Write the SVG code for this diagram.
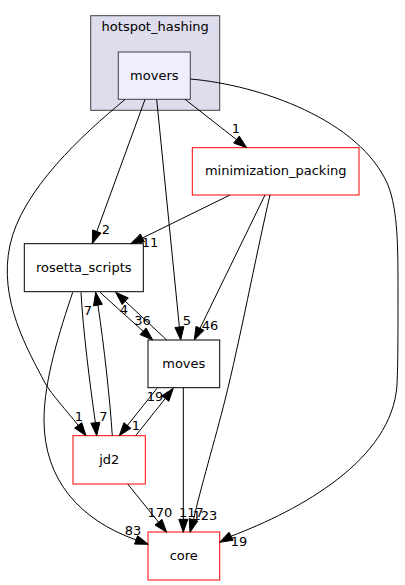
<svg xmlns="http://www.w3.org/2000/svg" width="405" height="585" viewBox="0 0 405 585">
<style>
text{font-family:"DejaVu Sans","Liberation Sans",sans-serif;font-size:13px;fill:#000;text-anchor:middle}
.n{fill:#fff;stroke:#000;stroke-width:1}
.r{fill:#fff;stroke:#f00;stroke-width:1}
.e path{fill:none;stroke:#000;stroke-width:1}
.e polygon{fill:#000;stroke:#000;stroke-width:1}
</style>
<rect width="405" height="585" fill="#fff"/>
<g id="cluster_hotspot_hashing">
<rect x="90.7" y="15.7" width="129" height="94.6" fill="#ddddee" stroke="#404040"/>
<text x="155.2" y="31">hotspot_hashing</text>
</g>
<g id="node_movers">
<rect x="118.3" y="52" width="72" height="47.3" fill="#eeeeff" stroke="#404040"/>
<text x="154.3" y="79.6">movers</text>
</g>
<g id="node_minimization_packing">
<rect class="r" x="192.3" y="147.7" width="166.7" height="47.3"/>
<text x="275.7" y="175.3">minimization_packing</text>
</g>
<g id="node_rosetta_scripts">
<rect class="n" x="24.3" y="243.7" width="119" height="48"/>
<text x="83.8" y="271.7">rosetta_scripts</text>
</g>
<g id="node_moves">
<rect class="n" x="148" y="340" width="71.7" height="47.7"/>
<text x="183.8" y="367.8">moves</text>
</g>
<g id="node_jd2">
<rect class="r" x="73" y="435.7" width="72.3" height="48.3"/>
<text x="109.2" y="463.8">jd2</text>
</g>
<g id="node_core">
<rect class="r" x="148" y="532" width="71.7" height="48"/>
<text x="183.8" y="560">core</text>
</g>
<g id="edges" class="e">
<!-- movers -> minimization_packing -->
<path d="M185,99.3 L236.5,139.6"/>
<polygon points="233.7,143.1 239.3,136.1 246.7,147.7"/>
<text x="236" y="133">1</text>
<!-- movers -> rosetta_scripts -->
<path d="M145,99.5 L96.8,231.5"/>
<polygon points="92.6,229.9 101,233.1 92.3,243.7"/>
<text x="106" y="234">2</text>
<!-- movers -> moves -->
<path d="M156.7,99.5 L179.4,327.1"/>
<polygon points="174.9,327.5 183.9,326.6 180.7,340"/>
<text x="187" y="325">5</text>
<!-- movers -> jd2 -->
<path d="M125,99.5 C82,135 22,190 10,245 C-2,300 28,350 45,383 C52,395 66,410 78.2,425.3"/>
<polygon points="74.6,428 81.8,422.6 86,435.7"/>
<text x="79" y="421">1</text>
<!-- movers -> core -->
<path d="M190.3,79 C260,85 360,120 388,185 C398,210 398,250 398,290 C398,340 398,360 397,385 C392,460 300,510 231.1,536.2"/>
<polygon points="229,532.2 233.2,540.2 219.7,542.3"/>
<text x="239" y="546">19</text>
<!-- minimization_packing -> rosetta_scripts -->
<path d="M230,195 L142.4,238"/>
<polygon points="140.4,234 144.4,242 130.7,243.7"/>
<text x="150" y="247">11</text>
<!-- minimization_packing -> moves -->
<path d="M265,195 L200,328.3"/>
<polygon points="196,326.3 204,330.3 194.3,340"/>
<text x="210" y="330">46</text>
<!-- minimization_packing -> core -->
<path d="M270,195 C255,260 240,340 225,400 C215,440 200,490 193.5,519.8"/>
<polygon points="189.2,518.6 197.8,521 190,532.3"/>
<text x="205" y="520">123</text>
<!-- rosetta_scripts -> moves -->
<path d="M100,292.3 L143.1,331.3"/>
<polygon points="140.1,334.6 146.1,328 152.7,340"/>
<text x="142.5" y="325">36</text>
<!-- moves -> rosetta_scripts -->
<path d="M166.7,340 L125.2,301.2"/>
<polygon points="128.3,297.9 122.1,304.5 115.7,292.3"/>
<text x="124" y="314">4</text>
<!-- rosetta_scripts -> jd2 -->
<path d="M81,292.3 C83,330 90,385 95.4,422.8"/>
<polygon points="90.9,423.2 99.9,422.3 96.7,435.7"/>
<text x="103.5" y="421">7</text>
<!-- jd2 -> rosetta_scripts -->
<path d="M112.3,435.7 C110,400 104,345 97.9,305.1"/>
<polygon points="102.3,304.3 93.5,305.9 95.7,292.3"/>
<text x="88" y="315">7</text>
<!-- rosetta_scripts -> core -->
<path d="M72.7,292.3 C60,330 44,380 44,420 C44,480 80,520 136.1,539.9"/>
<polygon points="134.6,544.1 137.6,535.7 148.3,544.3"/>
<text x="133" y="535">83</text>
<!-- moves -> jd2 -->
<path d="M157,388.3 L127.4,425.5"/>
<polygon points="123.9,422.7 130.9,428.3 119.3,435.7"/>
<text x="155" y="401">19</text>
<!-- jd2 -> moves -->
<path d="M135.7,435.7 L165.3,398.5"/>
<polygon points="168.8,401.3 161.8,395.7 173.3,388.3"/>
<text x="136" y="430">1</text>
<!-- jd2 -> core -->
<path d="M127.7,484 L158.5,522.2"/>
<polygon points="155,525 162,519.4 166.7,532.3"/>
<text x="160" y="517">170</text>
<!-- moves -> core -->
<path d="M183.3,387.7 L183.3,519.3"/>
<polygon points="178.8,519.3 187.8,519.3 183.3,532.3"/>
<text x="191.5" y="517">117</text>
</g>
</svg>
